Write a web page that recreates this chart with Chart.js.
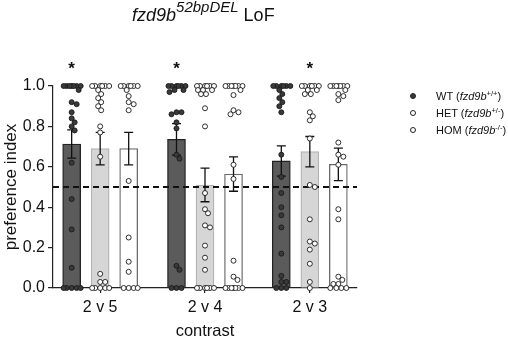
<!DOCTYPE html>
<html lang="en">
  <head>
    <meta charset="UTF-8" />
    <title>fzd9b LoF preference index</title>
    <script src="https://cdn.jsdelivr.net/npm/chart.js@4.4.1/dist/chart.umd.min.js"></script>
    <style>
      body {
        margin: 0;
        background: #fff;
        font-family: "Liberation Sans", Arial, sans-serif;
        color: #111;
      }
      #wrap {
        position: relative;
        width: 508px;
        height: 338px;
      }
      #chart {
        position: absolute;
        left: 0;
        top: 0;
      }
      #title {
        position: absolute;
        left: 132px;
        top: 6px;
        font-size: 18px;
        line-height: 18px;
        white-space: nowrap;
      }
      #title sup {
        font-size: 15px;
        vertical-align: baseline;
        position: relative;
        top: -9px;
      }
      .key {
        position: absolute;
        left: 410px;
        font-size: 11px;
        line-height: 12px;
        white-space: nowrap;
      }
      .key .dot {
        display: inline-block;
        width: 4px;
        height: 4px;
        border: 1px solid #222;
        border-radius: 50%;
        margin-right: 20px;
        vertical-align: 1px;
      }
      .key sup {
        font-size: 7.5px;
        vertical-align: baseline;
        position: relative;
        top: -4px;
      }
    </style>
  </head>
  <body>
    <div id="wrap">
      <canvas id="chart" width="508" height="338"></canvas>
      <div id="title"><i>fzd9b</i><sup><i>52bpDEL</i></sup> LoF</div>
      <div class="key" style="top: 90px"><span class="dot" style="background: #3a3a3a"></span>WT (<i>fzd9b</i><sup>+/+</sup>)</div>
      <div class="key" style="top: 107px"><span class="dot" style="background: #fff"></span>HET (<i>fzd9b</i><sup>+/-</sup>)</div>
      <div class="key" style="top: 124px"><span class="dot" style="background: #fff"></span>HOM (<i>fzd9b</i><sup>-/-</sup>)</div>
    </div>

    <script>
      const contrasts = ["2 v 5", "2 v 4", "2 v 3"];
      const genotypes = ["WT", "HET", "HOM"];

      // mean +/- sem per contrast
      const wtMean = [0.713, 0.736, 0.629];
      const hetMean = [0.69, 0.51, 0.675];
      const homMean = [0.69, 0.564, 0.612];
      const wtSem = [0.07, 0.078, 0.075];
      const hetSem = [0.08, 0.083, 0.075];
      const homSem = [0.08, 0.085, 0.08];

      // individual fish
      const wtPoints = [
        [1, 1, 1, 1, 1, 1, 1, 0.98, 0.92, 0.91, 0.87, 0.84, 0.82, 0.8, 0.78, 0.62, 0.44, 0.29, 0.1, 0, 0, 0, 0, 0],
        [1, 1, 1, 1, 1, 1, 0.98, 0.98, 0.97, 0.87, 0.87, 0.86, 0.82, 0.79, 0.66, 0.64, 0.11, 0.09, 0, 0, 0],
        [1, 1, 1, 1, 1, 1, 0.98, 0.96, 0.94, 0.92, 0.9, 0.87, 0.66, 0.55, 0.47, 0.4, 0.36, 0.3, 0.17, 0.06, 0.03, 0.03, 0, 0, 0],
      ];
      const hetPoints = [
        [1, 1, 1, 1, 1, 1, 0.98, 0.96, 0.94, 0.92, 0.9, 0.88, 0.8, 0.77, 0.65, 0.07, 0.03, 0.03, 0, 0, 0, 0, 0],
        [1, 1, 1, 1, 1, 1, 0.98, 0.98, 0.98, 0.96, 0.96, 0.89, 0.8, 0.47, 0.39, 0.37, 0.31, 0.3, 0.21, 0.15, 0.09, 0, 0, 0, 0, 0, 0],
        [1, 1, 1, 1, 1, 1, 0.98, 0.98, 0.96, 0.96, 0.87, 0.85, 0.83, 0.74, 0.51, 0.5, 0.34, 0.23, 0.22, 0.19, 0.12, 0.03, 0],
      ];
      const homPoints = [
        [1, 1, 1, 1, 1, 1, 0.98, 0.95, 0.92, 0.91, 0.88, 0.53, 0.25, 0.13, 0.08, 0, 0, 0, 0],
        [1, 1, 1, 1, 1, 1, 1, 0.98, 0.955, 0.88, 0.87, 0.86, 0.61, 0.54, 0.135, 0.056, 0.04, 0, 0, 0, 0, 0, 0, 0],
        [1, 1, 1, 1, 1, 1, 1, 0.98, 0.96, 0.95, 0.93, 0.72, 0.66, 0.65, 0.61, 0.39, 0.34, 0.056, 0.04, 0.02, 0.02, 0, 0, 0, 0],
      ];

      // significant vs chance (*)
      const wtSig = [true, true, false];
      const hetSig = [false, false, true];
      const homSig = [false, false, false];

      const chance = 0.5;

      const means = [wtMean, hetMean, homMean];
      const sems = [wtSem, hetSem, homSem];
      const points = [wtPoints, hetPoints, homPoints];
      const sigs = [wtSig, hetSig, homSig];

      const xMin = -0.45;
      const xMax = 2.45;
      const shift = [-0.272, 0, 0.272];
      const barFill = ["#5b5b5b", "#d6d6d6", "#ffffff"];
      const barEdge = ["#222222", "#b3b3b3", "#6a6a6a"];
      const dotFill = ["#3a3a3a", "#ffffff", "#ffffff"];

      // rough beeswarm, done in pixels then mapped back to x units
      const pxPerX = 104.8;
      const pxPerY = 202;
      const dotR = 2.5;
      function swarm(values, centre) {
        const placed = [];
        const d = dotR * 2;
        const half = 8.5;
        const out = [];
        values.forEach((v) => {
          const py = v * pxPerY;
          let best = null;
          let bestGap = -1;
          for (let k = 0; k <= 2 * half; k++) {
            const off = k % 2 ? Math.ceil(k / 2) : -k / 2;
            let gap = Infinity;
            placed.forEach((p) => {
              gap = Math.min(gap, Math.hypot(p.x - off, p.y - py));
            });
            if (gap >= d * 0.98) {
              best = off;
              break;
            }
            if (gap > bestGap) {
              bestGap = gap;
              best = off;
            }
          }
          placed.push({ x: best, y: py });
          out.push({ x: centre + best / pxPerX, y: v });
        });
        return out;
      }

      const datasets = [];

      genotypes.forEach((g, gi) => {
        datasets.push({
          type: "scatter",
          label: g + " fish",
          data: points[gi].flatMap((vals, ci) => swarm(vals, ci + shift[gi])),
          pointRadius: dotR,
          pointBackgroundColor: dotFill[gi],
          pointBorderColor: "#1a1a1a",
          pointBorderWidth: 0.9,
          clip: false,
          order: 0,
        });
      });

      datasets.push({
        type: "line",
        label: "chance",
        data: [
          { x: xMin, y: chance },
          { x: xMax, y: chance },
        ],
        borderColor: "#111",
        borderWidth: 2.2,
        borderDash: [6, 4],
        pointRadius: 0,
        order: 1,
      });

      genotypes.forEach((g, gi) => {
        datasets.push({
          type: "bar",
          label: g,
          data: means[gi].map((m, ci) => ({ x: ci + shift[gi], y: m })),
          backgroundColor: barFill[gi],
          borderColor: barEdge[gi],
          borderWidth: 1.3,
          barThickness: 18,
          grouped: false,
          order: 2,
        });
      });

      const errorBars = {
        id: "errorBars",
        afterDatasetDraw(chart, args) {
          if (args.meta.type !== "line") return;
          const { ctx } = chart;
          const x = chart.scales.x;
          const y = chart.scales.y;
          ctx.save();
          ctx.strokeStyle = "#111";
          ctx.lineWidth = 1.3;
          means.forEach((row, gi) => {
            row.forEach((m, ci) => {
              const px = x.getPixelForValue(ci + shift[gi]);
              const top = y.getPixelForValue(m + sems[gi][ci]);
              const bot = y.getPixelForValue(m - sems[gi][ci]);
              ctx.beginPath();
              ctx.moveTo(px, top);
              ctx.lineTo(px, bot);
              ctx.moveTo(px - 4.5, top);
              ctx.lineTo(px + 4.5, top);
              ctx.moveTo(px - 4.5, bot);
              ctx.lineTo(px + 4.5, bot);
              ctx.stroke();
            });
          });
          ctx.restore();
        },
        afterDatasetsDraw(chart) {
          const { ctx } = chart;
          const x = chart.scales.x;
          const y = chart.scales.y;
          ctx.save();
          ctx.fillStyle = "#111";
          ctx.font = "bold 17px 'Liberation Sans', Arial, sans-serif";
          ctx.textAlign = "center";
          ctx.textBaseline = "middle";
          sigs.forEach((row, gi) => {
            row.forEach((s, ci) => {
              if (!s) return;
              ctx.fillText("*", x.getPixelForValue(ci + shift[gi]), y.getPixelForValue(1) - 17);
            });
          });
          ctx.restore();
        },
      };

      Chart.defaults.font.family = "'Liberation Sans', Arial, sans-serif";
      Chart.defaults.color = "#111";

      new Chart(document.getElementById("chart"), {
        data: { datasets: datasets },
        options: {
          responsive: false,
          animation: false,
          devicePixelRatio: 1,
          layout: { padding: { top: 86, right: 151, left: 0, bottom: 0 } },
          plugins: {
            legend: { display: false },
            tooltip: { enabled: false },
          },
          scales: {
            x: {
              type: "linear",
              min: xMin,
              max: xMax,
              offset: false,
              afterBuildTicks: (scale) => {
                scale.ticks = contrasts.map((c, i) => ({ value: i }));
              },
              afterFit: (scale) => {
                scale.height = 50;
              },
              ticks: {
                callback: (v) => contrasts[Math.round(v)],
                font: { size: 16 },
                padding: 5,
                maxRotation: 0,
              },
              grid: {
                offset: false,
                drawOnChartArea: false,
                drawTicks: true,
                tickLength: 5,
                color: "#222",
                lineWidth: 1.2,
              },
              border: { display: true, color: "#222", width: 1.2 },
              title: {
                display: true,
                text: "contrast",
                font: { size: 16.5, lineHeight: 0.9 },
                padding: { top: 0, bottom: -1 },
              },
            },
            y: {
              min: 0,
              max: 1,
              afterFit: (scale) => {
                scale.width = 53;
              },
              ticks: {
                stepSize: 0.2,
                callback: (v) => v.toFixed(1),
                font: { size: 16 },
              },
              grid: {
                drawOnChartArea: false,
                drawTicks: true,
                tickLength: 5,
                color: "#222",
                lineWidth: 1.2,
              },
              border: { display: true, color: "#222", width: 1.2 },
              title: {
                display: true,
                text: "preference index",
                font: { size: 17 },
                padding: { top: 1, bottom: 2 },
              },
            },
          },
        },
        plugins: [errorBars],
      });
    </script>
  </body>
</html>
